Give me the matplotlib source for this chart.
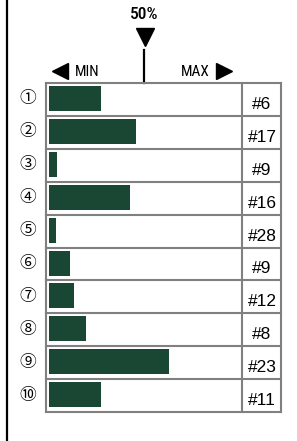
import matplotlib.pyplot as plt
import numpy as np

# data
labels = ['①', '②', '③', '④', '⑤', '⑥', '⑦', '⑧', '⑨', '⑩']
values = [27.4, 45.8, 4.2, 42.6, 3.7, 11.0, 13.2, 19.5, 63.0, 27.4]   # percent of bar cell
ranks = ['#6', '#17', '#9', '#16', '#28', '#9', '#12', '#8', '#23', '#11']

bar_color = '#1a4734'
grid_color = '#808080'

W, H = 297, 441
fig = plt.figure(figsize=(W / 100, H / 100), dpi=100)
ax = fig.add_axes([0, 0, 1, 1])
ax.set_xlim(0, W)
ax.set_ylim(H, 0)
ax.axis('off')

# layout (pixels)
x_left, x_mid, x_right = 46, 242, 281
top, row_h = 83, 32.9
bar_x0, bar_full = 49, 190
n = len(values)
row_tops = top + np.arange(n) * row_h

# left black rule
ax.plot([7, 7], [0, H], color='black', lw=1.6, solid_capstyle='butt')

# bars
ax.barh(row_tops + 3, np.array(values) / 100 * bar_full, left=bar_x0,
        height=25, align='edge', color=bar_color, zorder=2)

# table grid
for i in range(n + 1):
    ax.plot([x_left, x_right], [top + i * row_h] * 2, color=grid_color, lw=1.5, zorder=3)
for xx in (x_left, x_mid, x_right):
    ax.plot([xx, xx], [top, top + n * row_h], color=grid_color, lw=1.5, zorder=3)

# labels and ranks
for i in range(n):
    yc = row_tops[i] + row_h / 2
    ax.text(27.5, yc - 0.5, labels[i], ha='center', va='center', fontsize=12,
            family=['Noto Sans CJK JP', 'DejaVu Sans'])
    ax.text((x_mid + x_right) / 2 + 0.5, yc + 5, ranks[i], ha='center', va='center',
            fontsize=12.5, family='Liberation Sans')

# header
mid = (x_left + x_mid) / 2
cond = 'Roboto Condensed'
ax.text(mid, 14.5, '50%', ha='center', va='center', fontsize=12.5, fontweight='medium', family=cond)
ax.plot([mid + 1], [37], marker='v', ms=12.5, color='black')
ax.plot([mid, mid], [50, top], color='black', lw=1.6)
ax.plot([60], [70.5], marker='<', ms=12, color='black')
ax.text(75, 71.5, 'MIN', ha='left', va='center', fontsize=11, family=cond)
ax.text(210, 71.5, 'MAX', ha='right', va='center', fontsize=11, family=cond)
ax.plot([223.5], [70.5], marker='>', ms=12, color='black')

fig.savefig('out.png', dpi=100)
